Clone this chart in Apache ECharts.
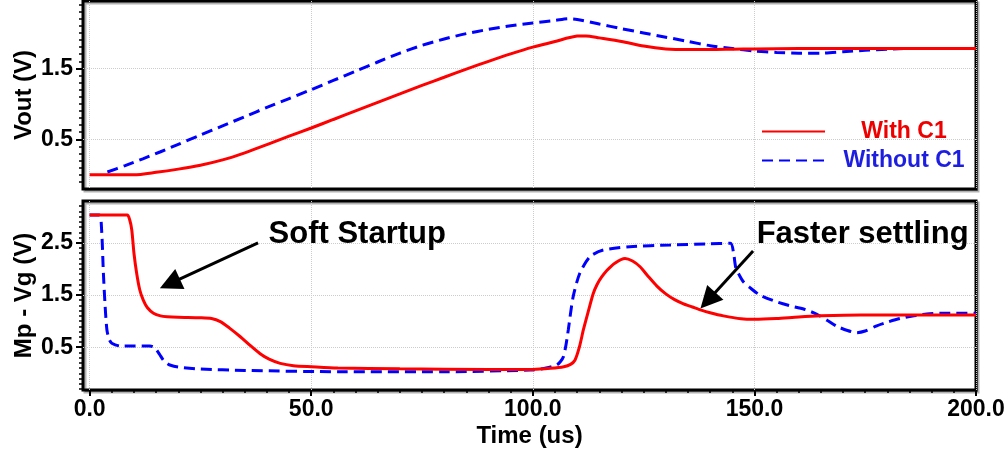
<!DOCTYPE html>
<html><head><meta charset="utf-8">
<script src="https://cdn.jsdelivr.net/npm/echarts@6/dist/echarts.min.js"></script>
<style>html,body{margin:0;padding:0;background:#fff}#c{width:1008px;height:456px}</style>
</head><body><div id="c"></div>
<script>
// ---- data (time in us, voltage in V) ----
const tVoutWith = [0,10,15,20,25,30,35,40,45,50,55,60,65,70,75,80,85,90,95,100,105,110,112,115,120,125,130,135,140,145,150,160,200];
const vVoutWith = [0,0,0.035,0.08,0.135,0.21,0.31,0.425,0.545,0.66,0.78,0.90,1.02,1.14,1.26,1.375,1.49,1.60,1.705,1.80,1.88,1.955,1.958,1.93,1.88,1.815,1.775,1.765,1.765,1.77,1.775,1.78,1.78];

const tVoutWithout = [4,8,12,16,20,25,30,35,40,45,50,55,60,65,70,75,80,85,90,95,100,105,108,110,115,120,125,130,135,140,145,150,155,160,165,170,175,180,185,200];
const vVoutWithout = [0.04,0.13,0.225,0.325,0.43,0.56,0.69,0.82,0.95,1.075,1.20,1.33,1.46,1.59,1.715,1.825,1.915,1.99,2.05,2.10,2.14,2.175,2.20,2.19,2.125,2.06,2.0,1.94,1.88,1.82,1.78,1.745,1.725,1.715,1.715,1.735,1.755,1.77,1.78,1.78];

const tMpWith = [0,8.5,9,9.5,10,10.6,11.3,12.1,13,14.4,16,17.5,20,25,27.5,29.5,31.5,34,36,38.4,40.5,43,46,50,56,70,90,100,104,107,108.5,109.5,110.5,111.4,112.5,113.6,114.5,115.5,116.7,118.5,120.8,122.5,124.2,126,128,130,132,134,136,138,140,143,147,150,155,160,165,174,200];
const vMpWith = [3.03,3.03,2.95,2.75,2.3,1.92,1.6,1.40,1.26,1.15,1.10,1.085,1.075,1.065,1.05,0.99,0.87,0.70,0.55,0.38,0.27,0.19,0.145,0.125,0.10,0.085,0.075,0.075,0.095,0.125,0.17,0.25,0.5,0.83,1.18,1.52,1.70,1.84,1.97,2.11,2.20,2.15,2.04,1.86,1.67,1.52,1.41,1.33,1.27,1.21,1.16,1.10,1.045,1.035,1.05,1.08,1.10,1.115,1.115];

const tMpWithout = [0,2.2,2.7,3.1,3.5,3.9,4.4,5.0,6.9,10,13.6,14.5,15.1,15.8,16.6,17.3,18.1,20,24.9,35,56.5,80,99.4,103,105.4,106.2,106.9,107.5,108,109.1,110.6,112.9,115.9,121.9,131,140,144.6,145.3,145.8,146.6,147.5,149,151.2,155,158.8,161.5,164.1,166.5,168.6,171,173.1,175,177.6,180,182.9,186,188.9,193,200];
const vMpWithout = [3.03,3.03,2.745,1.92,1.276,0.83,0.65,0.575,0.523,0.523,0.523,0.50,0.446,0.36,0.255,0.2,0.159,0.12,0.082,0.055,0.03,0.03,0.063,0.1,0.159,0.22,0.318,0.55,0.83,1.467,1.916,2.234,2.36,2.425,2.458,2.48,2.49,2.3,2.02,1.88,1.755,1.64,1.50,1.37,1.276,1.22,1.13,1.01,0.9,0.82,0.778,0.81,0.91,0.98,1.05,1.10,1.136,1.15,1.15];

const seriesNames = ['With C1', 'Without C1'];
const xLabelValues = [0, 50, 100, 150, 200];
const topYLabels = [0.5, 1.5];
const bottomYLabels = [0.5, 1.5, 2.5];
const annotationTexts = ['Soft Startup', 'Faster settling'];
const annotationAnchors = [[40.25, 2.668], [150.4, 2.668]];
const arrows = [
  [[38.0, 2.496], [18.1, 1.716]],
  [[149.7, 2.342], [139.5, 1.395]]
];

// ---- helpers ----
const zip = (t, v) => t.map((x, i) => [x, v[i]]);
const steps = (a, b, s) => { const r = []; for (let k = Math.round(a / s); k <= Math.round(b / s); k++) r.push(+(k * s).toFixed(2)); return r; };

const FONT = '"Liberation Sans", Arial, Helvetica, sans-serif';
const RED = '#ff0000', BLUE = '#0000ff';
const XMIN = -1.5, XMAX = 200;
const gridLine = { show: true, lineStyle: { color: '#cccccc', type: 'dotted', width: 1 } };
const tickLbl = { color: '#000', fontFamily: FONT, fontWeight: 'bold', fontSize: 23 };
const nameStyle = { color: '#000', fontFamily: FONT, fontWeight: 'bold', fontSize: 24 };
const noLine = { show: false, onZero: false };
const gridBase = { left: 83, right: 32, show: true, borderColor: '#000', borderWidth: 3, backgroundColor: '#fff',
  shadowColor: 'rgba(0,0,0,0.3)', shadowOffsetX: 2, shadowOffsetY: 2, shadowBlur: 0, outerBoundsMode: 'none', containLabel: false };

function yMain(gi, min, max, labels, name) {
  return { gridIndex: gi, type: 'value', position: 'left', min, max,
    axisLine: noLine,
    axisTick: { show: true, customValues: labels, length: 7, lineStyle: { color: '#000', width: 2 } },
    axisLabel: { show: true, customValues: labels, formatter: v => v.toFixed(1), margin: 10, ...tickLbl },
    splitLine: gridLine,
    name, nameLocation: 'middle', nameGap: 47, nameMoveOverlap: false, nameTextStyle: nameStyle };
}
function yMinor(gi, min, max, ticks) {
  return { gridIndex: gi, type: 'value', position: 'left', offset: 0, min, max,
    axisLine: noLine,
    axisTick: { show: true, customValues: ticks, length: 4, lineStyle: { color: '#000', width: 1.5 } },
    axisLabel: { show: false }, splitLine: { show: false } };
}

const lineBase = { type: 'line', symbol: 'none', smooth: 0.25, animation: false, clip: true };
const blueStyle = { color: BLUE, width: 3, type: [11, 6] };
const redStyle = { color: RED, width: 3, type: 'solid' };

const option = {
  animation: false,
  backgroundColor: '#fff',
  grid: [ { ...gridBase, top: 1, height: 188 }, { ...gridBase, top: 201, height: 189 } ],
  legend: {
    orient: 'vertical', left: 756, top: 115, itemWidth: 63, itemHeight: 14, itemGap: 6,
    selectedMode: false,
    itemStyle: { opacity: 0 },
    data: [ { name: seriesNames[0], textStyle: { color: '#ee0000' } },
            { name: seriesNames[1], textStyle: { color: '#1e1ee0' } } ],
    formatter: n => '{t|' + n + '}',
    textStyle: { fontFamily: FONT, fontWeight: 'bold', fontSize: 23,
      rich: { t: { width: 148, align: 'center', fontFamily: FONT, fontWeight: 'bold', fontSize: 23, lineHeight: 24 } } }
  },
  xAxis: [
    { gridIndex: 0, type: 'value', position: 'bottom', min: XMIN, max: XMAX,
      axisLine: noLine,
      axisTick: { show: false, customValues: xLabelValues },
      axisLabel: { show: false, customValues: xLabelValues },
      splitLine: gridLine },
    { gridIndex: 1, type: 'value', position: 'bottom', min: XMIN, max: XMAX,
      axisLine: noLine,
      axisTick: { show: true, customValues: xLabelValues, length: 6, lineStyle: { color: '#000', width: 2 } },
      axisLabel: { show: true, customValues: xLabelValues, formatter: v => v.toFixed(1), margin: 8, ...tickLbl },
      splitLine: gridLine,
      name: 'Time (us)', nameLocation: 'middle', nameGap: 34, nameTextStyle: nameStyle },
    { gridIndex: 1, type: 'value', position: 'bottom', offset: 0, min: XMIN, max: XMAX,
      axisLine: noLine,
      axisTick: { show: true, customValues: steps(0, 200, 5), length: 3, lineStyle: { color: '#000', width: 1.5 } },
      axisLabel: { show: false }, splitLine: { show: false } }
  ],
  yAxis: [
    yMain(0, -0.2, 2.45, topYLabels, 'Vout (V)'),
    yMinor(0, -0.2, 2.45, steps(-0.1, 2.4, 0.1)),
    yMain(1, -0.32, 3.3, bottomYLabels, 'Mp - Vg (V)'),
    yMinor(1, -0.32, 3.3, steps(-0.3, 3.2, 0.1))
  ],
  series: [
    { ...lineBase, name: seriesNames[1], xAxisIndex: 0, yAxisIndex: 0, data: zip(tVoutWithout, vVoutWithout), lineStyle: blueStyle, itemStyle: { color: BLUE } },
    { ...lineBase, name: seriesNames[0], xAxisIndex: 0, yAxisIndex: 0, data: zip(tVoutWith, vVoutWith), lineStyle: redStyle, itemStyle: { color: RED } },
    { ...lineBase, name: seriesNames[1], xAxisIndex: 1, yAxisIndex: 2, data: zip(tMpWithout, vMpWithout), lineStyle: blueStyle, itemStyle: { color: BLUE } },
    { ...lineBase, name: seriesNames[0], xAxisIndex: 1, yAxisIndex: 2, data: zip(tMpWith, vMpWith), lineStyle: redStyle, itemStyle: { color: RED },
      markLine: { silent: true, animation: false, symbol: ['none', 'triangle'], symbolSize: 22,
        lineStyle: { color: '#000', width: 3, type: 'solid' }, itemStyle: { color: '#000' }, label: { show: false },
        emphasis: { disabled: true },
        data: arrows.map(a => [{ coord: a[0] }, { coord: a[1] }]) },
      markPoint: { silent: true, animation: false, symbol: 'circle', symbolSize: 1, itemStyle: { color: 'rgba(0,0,0,0)' },
        label: { show: true, position: 'right', distance: 0, formatter: '{b}', color: '#000', fontFamily: FONT, fontWeight: 'bold', fontSize: 31 },
        data: annotationTexts.map((s, i) => ({ name: s, coord: annotationAnchors[i] })) } }
  ]
};
const chart = echarts.init(document.getElementById('c'), null, { renderer: 'canvas' });
chart.setOption(option);
</script></body></html>
